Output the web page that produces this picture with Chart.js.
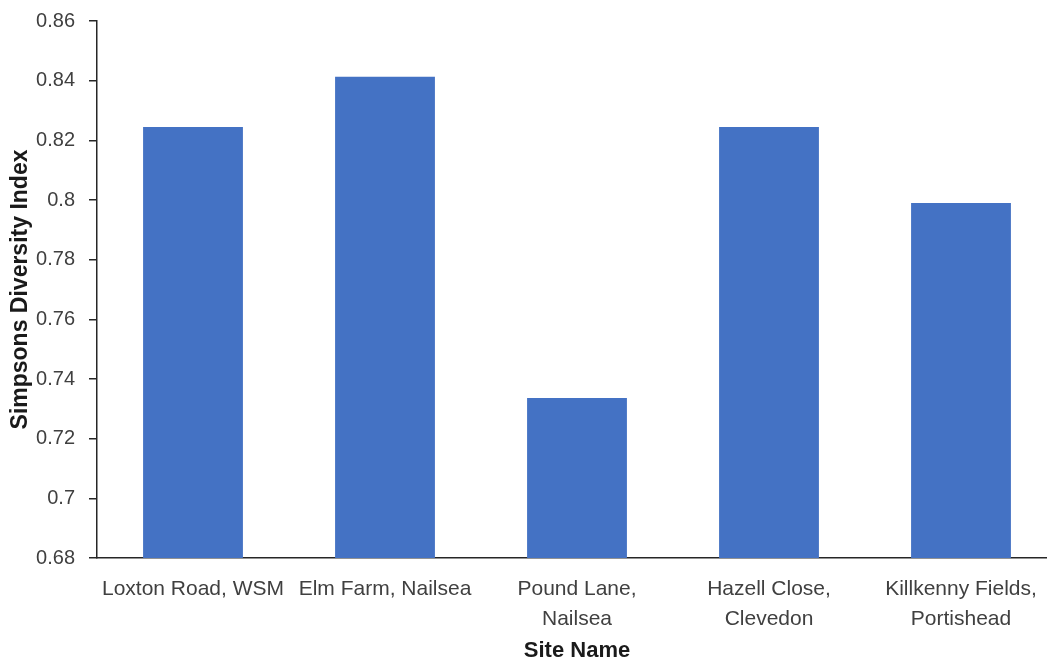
<!DOCTYPE html>
<html>
<head>
<meta charset="utf-8">
<script src="https://cdn.jsdelivr.net/npm/chart.js@4.4.0/dist/chart.umd.min.js"></script>
<style>
  html, body { margin: 0; padding: 0; background: #fff; overflow: hidden; }
  #wrap { width: 1060px; height: 660px; }
</style>
</head>
<body>
<div id="wrap"><canvas id="myChart" width="1060" height="660"></canvas></div>
<script>
var sites = [
    'Loxton Road, WSM',
    'Elm Farm, Nailsea',
    ['Pound Lane,', 'Nailsea'],
    ['Hazell Close,', 'Clevedon'],
    ['Killkenny Fields,', 'Portishead']
];
var diversity = [0.8245, 0.8413, 0.7336, 0.8245, 0.799];
var yMin = 0.68;
var yMax = 0.86;
var yStep = 0.02;

var ctx = document.getElementById('myChart').getContext('2d');
var myChart = new Chart(ctx, {
    type: 'bar',
    data: {
        labels: sites,
        datasets: [{
            label: 'Simpsons Diversity Index',
            data: diversity,
            backgroundColor: '#4472C4',
            borderWidth: 0,
            categoryPercentage: 1,
            barPercentage: 0.52
        }]
    },
    options: {
        responsive: false,
        animation: false,
        layout: { padding: { left: 0, right: 3, top: 21, bottom: 0 } },
        plugins: {
            legend: { display: false },
            tooltip: { enabled: false }
        },
        scales: {
            x: {
                grid: { display: false },
                border: { display: true, color: '#262626', width: 1.5 },
                ticks: {
                    color: '#404040',
                    font: { family: 'Liberation Sans', size: 21, lineHeight: 1.45 },
                    padding: 8,
                    maxRotation: 0,
                    autoSkip: false
                },
                title: {
                    display: true,
                    text: 'Site Name',
                    color: '#1a1a1a',
                    font: { family: 'Liberation Sans', size: 22, weight: 'bold', lineHeight: 0.8 },
                    padding: { top: 0, bottom: 0 }
                },
                afterFit: function (scale) { scale.height = 102; }
            },
            y: {
                min: yMin,
                max: yMax,
                grid: { display: true, drawOnChartArea: false, drawTicks: true, tickLength: 8, color: '#262626', lineWidth: 1.5 },
                border: { display: true, color: '#262626', width: 1.5 },
                ticks: {
                    stepSize: yStep,
                    color: '#404040',
                    font: { family: 'Liberation Sans', size: 20 },
                    padding: 14,
                    callback: function (v) { return String(Number(v.toFixed(2))); }
                },
                title: {
                    display: true,
                    text: 'Simpsons Diversity Index',
                    color: '#1a1a1a',
                    font: { family: 'Liberation Sans', size: 23, weight: 'bold', lineHeight: 1 },
                    padding: { top: 9, bottom: 0 }
                },
                afterFit: function (scale) {
                    scale.width = 97;
                    scale.paddingTop = 0;
                    scale.paddingBottom = 0;
                }
            }
        }
    }
});
</script>
</body>
</html>
